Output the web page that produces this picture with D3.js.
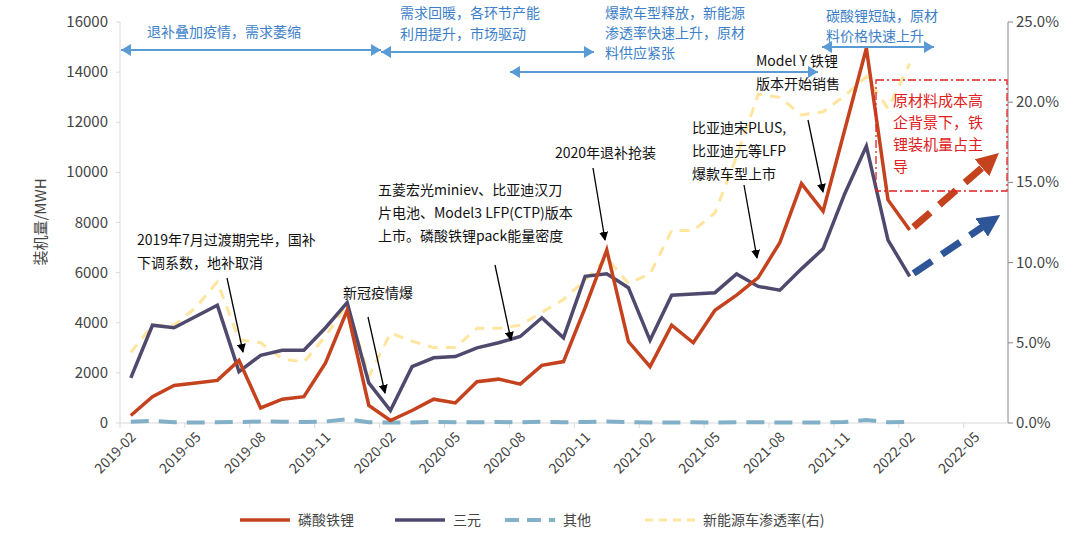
<!DOCTYPE html>
<html><head><meta charset="utf-8">
<script src="https://cdn.jsdelivr.net/npm/d3@7"></script>
<style>body{margin:0;background:#fff;font-family:"Noto Sans CJK SC","Noto Sans",sans-serif}</style>
</head><body><svg id="chart" width="1080" height="548"></svg>
<script>
// months 2019-02 .. 2022-06
const months = d3.range(41).map(i => { const m = i + 1; return (2019 + Math.floor(m / 12)) + "-" + String(m % 12 + 1).padStart(2, "0") })
const tickMonths = months.filter((d, i) => i % 3 == 0)
const lfp = [300,1050,1500,1600,1700,2500,600,950,1050,2400,4500,700,100,500,950,800,1650,1750,1550,2300,2450,4600,6900,3250,2250,3900,3200,4500,5100,5800,7200,9550,8450,11700,14950,8900,7700]
const ncm = [1800,3900,3800,4250,4700,2050,2700,2900,2900,3800,4800,1600,500,2250,2600,2650,3000,3200,3450,4200,3400,5850,5950,5400,3300,5100,5150,5200,5950,5450,5300,6150,6950,9150,11050,7300,5850]
const other = [50,80,30,20,30,40,60,50,40,60,150,30,20,20,40,30,30,40,30,50,30,40,60,30,20,20,30,20,30,30,20,20,20,40,120,30,40]
const penetration = [4.4,6.1,6.1,7.2,8.8,5.2,5.0,4.0,3.8,5.4,7.4,2.9,5.6,5.1,4.7,4.7,5.9,5.9,6.1,6.9,7.7,8.9,10.3,8.7,9.3,12.0,12.0,13.1,16.6,20.5,20.3,19.2,19.4,20.4,21.6,19.6,22.4]
const leftTicks = d3.range(0, 16001, 2000)
const rightTicks = [0, 5, 10, 15, 20, 25]

const svg = d3.select('#chart')
const x = d3.scaleBand().domain(months).range([120, 1007])
const cx = i => x(months[0]) + x.bandwidth() / 2 + i * x.step()
const y = d3.scaleLinear().domain([0, 16000]).range([423, 22])
const yr = d3.scaleLinear().domain([0, 25]).range([423, 22])

// axes
svg.append('line').attr('x1', 120).attr('x2', 120).attr('y1', 22).attr('y2', 423).attr('stroke', '#d9d9d9')
svg.append('line').attr('x1', 1008).attr('x2', 1008).attr('y1', 22).attr('y2', 423).attr('stroke', '#888')
svg.append('line').attr('x1', 120).attr('x2', 1008).attr('y1', 423).attr('y2', 423).attr('stroke', '#d9d9d9')
svg.selectAll('.lt').data(leftTicks).join('text').attr('x', 108).attr('y', d => y(d) + 5)
  .attr('text-anchor', 'end').attr('font-size', 15).attr('fill', '#444').text(d => d)
svg.selectAll('.ltk').data(leftTicks).join('line').attr('x1', 116).attr('x2', 120).attr('y1', d => y(d)).attr('y2', d => y(d)).attr('stroke', '#d9d9d9')
svg.selectAll('.rt').data(rightTicks).join('text').attr('x', 1016).attr('y', d => yr(d) + 5)
  .attr('font-size', 15).attr('fill', '#444').text(d => d.toFixed(1) + '%')
svg.selectAll('.rtk').data(rightTicks).join('line').attr('x1', 1008).attr('x2', 1013).attr('y1', d => yr(d)).attr('y2', d => yr(d)).attr('stroke', '#888')
svg.selectAll('.xt').data(tickMonths).join('text')
  .attr('transform', d => `translate(${x(d) + x.bandwidth() / 2 + 6},${438}) rotate(-45)`)
  .attr('text-anchor', 'end').attr('font-size', 14).attr('fill', '#444').text(d => d)
svg.selectAll('.xtk').data(d3.range(0, 42, 3)).join('line')
  .attr('x1', i => 120 + i * x.step()).attr('x2', i => 120 + i * x.step())
  .attr('y1', 423).attr('y2', 428).attr('stroke', '#d9d9d9')
svg.append('text').attr('transform', 'translate(46,222) rotate(-90)').attr('text-anchor', 'middle')
  .attr('font-size', 15).attr('fill', '#444').text('装机量/MWH')

// series
const line = (sc) => d3.line().x((d, i) => cx(i)).y(d => sc(d))
svg.append('path').datum(penetration).attr('d', line(yr)).attr('fill', 'none').attr('stroke', '#ffe59e').attr('stroke-width', 3).attr('stroke-dasharray', '10,8')
svg.append('path').datum(other).attr('d', line(y)).attr('fill', 'none').attr('stroke', '#82b0c8').attr('stroke-width', 4).attr('stroke-dasharray', '18,10')
svg.append('path').datum(ncm).attr('d', line(y)).attr('fill', 'none').attr('stroke', '#4f4a6d').attr('stroke-width', 3.5)
svg.append('path').datum(lfp).attr('d', line(y)).attr('fill', 'none').attr('stroke', '#c5421f').attr('stroke-width', 3.5)

// projection arrows
const defs = svg.append('defs')
function marker(id, color) {
  defs.append('marker').attr('id', id).attr('viewBox', '0 0 10 10').attr('refX', 2).attr('refY', 5)
    .attr('markerWidth', 3.2).attr('markerHeight', 3.2).attr('orient', 'auto')
    .append('path').attr('d', 'M0,0L10,5L0,10z').attr('fill', color)
}
marker('mr', '#c5421f'); marker('mb', '#2e5597'); marker('mk', '#000')
svg.append('line').attr('x1', cx(36) + 4).attr('y1', y(7700) - 3).attr('x2', cx(39.5)).attr('y2', y(10300))
  .attr('stroke', '#c5421f').attr('stroke-width', 7).attr('stroke-dasharray', '22,12').attr('marker-end', 'url(#mr)')
svg.append('line').attr('x1', cx(36) + 4).attr('y1', y(5850) - 3).attr('x2', cx(39.5)).attr('y2', y(7900))
  .attr('stroke', '#2e5597').attr('stroke-width', 7).attr('stroke-dasharray', '22,12').attr('marker-end', 'url(#mb)')

// red box
svg.append('rect').attr('x', 876).attr('y', 80).attr('width', 131).attr('height', 111).attr('fill', 'none')
  .attr('stroke', '#e02020').attr('stroke-width', 1.3).attr('stroke-dasharray', '8,3,2,3')
const multi = (lines, x0, y0, dy, color, size) => lines.forEach((t, i) =>
  svg.append('text').attr('x', x0).attr('y', y0 + i * dy).attr('font-size', size).attr('fill', color).text(t))
multi(['原材料成本高', '企背景下，铁', '锂装机量占主', '导'], 893, 106, 22, '#e02020', 15)

// period arrows
const blue = '#5b9bd5'
function period(x1, x2, yy, both) {
  svg.append('line').attr('x1', x1).attr('x2', x2).attr('y1', yy).attr('y2', yy).attr('stroke', blue).attr('stroke-width', 2)
  const head = (px, dir) => svg.append('path').attr('d', `M${px},${yy}l${-dir * 10},-6v12z`).attr('fill', blue)
  head(x2, 1); if (both) head(x1, -1)
}
period(121, 381, 50, true); period(381, 594, 52, true); period(510, 818, 72, true); period(822, 934, 47, true)
multi(['退补叠加疫情，需求萎缩'], 147, 37, 0, '#3d7fc8', 14)
multi(['需求回暖，各环节产能', '利用提升，市场驱动'], 400, 18, 21, '#3d7fc8', 14)
multi(['爆款车型释放，新能源', '渗透率快速上升，原材', '料供应紧张'], 605, 18, 20, '#3d7fc8', 14)
multi(['碳酸锂短缺，原材', '料价格快速上升'], 826, 21, 20, '#3d7fc8', 14)

// event annotations
function note(lines, x0, y0, ax1, ay1, ax2, ay2) {
  multi(lines, x0, y0, 23, '#111', 14)
  svg.append('line').attr('x1', ax1).attr('y1', ay1).attr('x2', ax2).attr('y2', ay2)
    .attr('stroke', '#000').attr('stroke-width', 1.3).attr('marker-end', 'url(#mk)')
}
defs.select('#mk').attr('markerWidth', 9).attr('markerHeight', 9).attr('markerUnits', 'userSpaceOnUse').attr('refX', 9)
note(['2019年7月过渡期完毕，国补', '下调系数，地补取消'], 137, 245, 227, 278, 243, 352)
note(['新冠疫情爆'], 343, 298, 368, 317, 385, 393)
note(['五菱宏光miniev、比亚迪汉刀', '片电池、Model3 LFP(CTP)版本', '上市。磷酸铁锂pack能量密度'], 378, 195, 495, 265, 511, 340)
note(['2020年退补抢装'], 555, 158, 593, 168, 605, 240)
note(['比亚迪宋PLUS,', '比亚迪元等LFP', '爆款车型上市'], 692, 133, 744, 185, 757, 258)
note(['Model Y 铁锂', '版本开始销售'], 756, 66, 808, 120, 823, 192)

// legend
const legend = [['磷酸铁锂', '#c5421f', null, 3.5], ['三元', '#4f4a6d', null, 3.5], ['其他', '#82b0c8', '14,8', 4], ['新能源车渗透率(右)', '#ffe59e', '8,6', 3]]
const lx = [240, 395, 505, 645]
legend.forEach((d, i) => {
  svg.append('line').attr('x1', lx[i]).attr('x2', lx[i] + 50).attr('y1', 520).attr('y2', 520)
    .attr('stroke', d[1]).attr('stroke-width', d[3]).attr('stroke-dasharray', d[2])
  svg.append('text').attr('x', lx[i] + 58).attr('y', 525).attr('font-size', 14).attr('fill', '#444').text(d[0])
})
</script></body></html>
